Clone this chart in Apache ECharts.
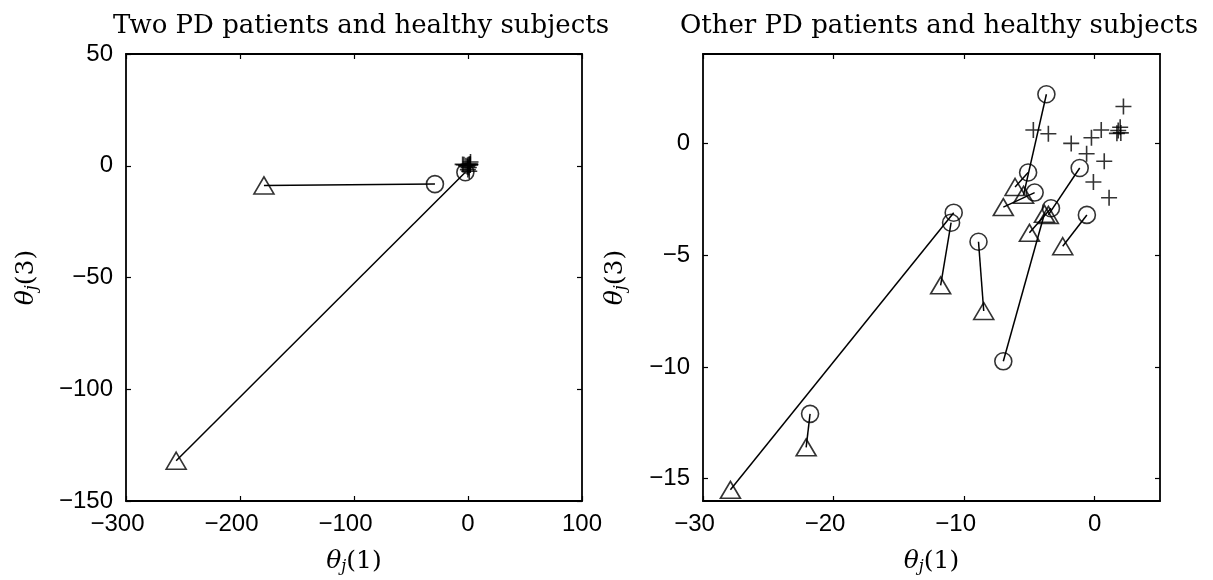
<!DOCTYPE html>
<html>
<head>
<meta charset="utf-8">
<script src="https://cdn.jsdelivr.net/npm/echarts@6/dist/echarts.min.js"></script>
<style>
  html, body { margin: 0; padding: 0; background: #fff; }
  #chart { width: 1213px; height: 580px; }
</style>
</head>
<body>
<div id="chart"></div>
<script>
// left panel: two PD patients (circle -> triangle pairs)
var leftCircles = [[-29, -8.2], [-2.3, -2.9]];
var leftTriangles = [[-179, -8.8], [-256, -132]];

// healthy subjects (plus markers), shown in both panels
var healthy = [
  [2.2, 1.65], [-4.7, 0.6], [-3.55, 0.43], [-1.8, 0.0], [-0.25, 0.25],
  [0.5, 0.6], [1.8, 0.58], [1.95, 0.72], [2.0, 0.47], [1.7, 0.45],
  [-0.62, -0.46], [0.73, -0.8], [-0.1, -1.73], [1.1, -2.43]
];

// right panel: other PD patients (circle i pairs with triangle i)
var rightCircles = [
  [-3.7, 2.2], [-5.1, -1.3], [-4.6, -2.2], [-1.15, -1.1], [-3.35, -2.9],
  [-0.6, -3.2], [-10.8, -3.1], [-11.0, -3.55], [-8.9, -4.4], [-7.0, -9.75],
  [-21.8, -12.1]
];
var rightTriangles = [
  [-5.45, -2.3], [-6.1, -1.95], [-7.0, -2.85], [-3.55, -3.2], [-5.0, -4.0],
  [-2.45, -4.6], [-27.9, -15.5], [-11.8, -6.35], [-8.5, -7.5], [-3.85, -3.15],
  [-22.1, -13.6]
];

var leftXTicks = [-300, -200, -100, 0, 100];
var leftYTicks = [-150, -100, -50, 0, 50];
var rightXTicks = [-30, -20, -10, 0];
var rightYTicks = [-15, -10, -5, 0];

var titles = ['Two PD patients and healthy subjects', 'Other PD patients and healthy subjects'];

var SERIF = '"DejaVu Serif", "Liberation Serif", serif';
var SANS = '"Liberation Sans", Arial, sans-serif';

var minus = function (v) { return String(v).replace('-', '\u2212'); };
// x labels: negative numbers sit a little left of their tick, as in the original
var xLabel = function (v) {
  return v < 0 ? '{v|' + minus(v) + '}{sp|}' : '{v|' + v + '}';
};

var nameRich = {
  t: { fontFamily: SERIF, fontStyle: 'italic', fontSize: 25, color: '#000' },
  s: { fontFamily: SERIF, fontStyle: 'italic', fontSize: 16, color: '#000', padding: [12, 0, 0, 0] },
  n: { fontFamily: SERIF, fontSize: 25, color: '#000' }
};

var axisLineStyle = { color: '#000', width: 1.8 };
var tickStyle = { color: '#000', width: 1.2 };

function xAxisMain(min, max, ticks, gridIndex, name) {
  return {
    type: 'value', gridIndex: gridIndex, position: 'bottom', min: min, max: max,
    axisLine: { show: true, onZero: false, lineStyle: axisLineStyle },
    axisTick: { show: true, inside: true, length: 5, customValues: ticks, lineStyle: tickStyle },
    axisLabel: {
      show: true, customValues: ticks, formatter: xLabel, margin: 11,
      rich: {
        v: { color: '#000', fontFamily: SANS, fontSize: 24 },
        sp: { width: 17 }
      }
    },
    splitLine: { show: false },
    name: name, nameLocation: 'middle', nameGap: 46,
    nameTextStyle: { rich: nameRich }
  };
}

function yAxisMain(min, max, ticks, gridIndex, name, nameGap) {
  return {
    type: 'value', gridIndex: gridIndex, position: 'left', min: min, max: max,
    axisLine: { show: true, onZero: false, lineStyle: axisLineStyle },
    axisTick: { show: true, inside: true, length: 5, customValues: ticks, lineStyle: tickStyle },
    axisLabel: { show: true, customValues: ticks, formatter: minus, color: '#000', fontFamily: SANS, fontSize: 24, margin: 13 },
    splitLine: { show: false },
    name: name, nameLocation: 'middle', nameGap: nameGap, nameRotate: 90,
    nameTextStyle: { rich: nameRich }
  };
}

function boxAxis(pos, min, max, ticks, gridIndex) {
  return {
    type: 'value', gridIndex: gridIndex, position: pos, min: min, max: max,
    axisLine: { show: true, onZero: false, lineStyle: axisLineStyle },
    axisTick: { show: true, inside: true, length: 5, customValues: ticks, lineStyle: tickStyle },
    axisLabel: { show: false },
    splitLine: { show: false }
  };
}

function pairLines(circles, triangles) {
  return circles.map(function (c, i) {
    return { coords: [c, triangles[i]] };
  });
}

var markerStyle = { color: 'rgba(0,0,0,0)', borderColor: '#000', borderWidth: 1.6 };
var plusPath = 'path://M5,0L5,10M0,5L10,5';

function panelSeries(idx, circles, triangles) {
  return [
    {
      type: 'lines', coordinateSystem: 'cartesian2d', xAxisIndex: idx, yAxisIndex: idx,
      data: pairLines(circles, triangles), silent: true,
      lineStyle: { color: '#000', width: 1.5, opacity: 1 }
    },
    {
      type: 'scatter', xAxisIndex: idx, yAxisIndex: idx, data: healthy,
      symbol: plusPath, symbolSize: 16, itemStyle: markerStyle, silent: true
    },
    {
      type: 'scatter', xAxisIndex: idx, yAxisIndex: idx, data: circles,
      symbol: 'circle', symbolSize: 17, itemStyle: markerStyle, silent: true
    },
    {
      type: 'scatter', xAxisIndex: idx, yAxisIndex: idx, data: triangles,
      symbol: 'triangle', symbolSize: [20, 17], itemStyle: markerStyle, silent: true
    }
  ];
}

var chart = echarts.init(document.getElementById('chart'), null, { renderer: 'canvas' });

chart.setOption({
  backgroundColor: '#fff',
  animation: false,
  title: [
    { text: titles[0], left: 356, top: 8, textAlign: 'center',
      textStyle: { fontFamily: SERIF, fontWeight: 'normal', fontSize: 26, color: '#000' } },
    { text: titles[1], left: 934, top: 8, textAlign: 'center',
      textStyle: { fontFamily: SERIF, fontWeight: 'normal', fontSize: 26, color: '#000' } }
  ],
  grid: [
    { left: 126, right: 631, top: 54, bottom: 79 },
    { left: 703, right: 53, top: 54, bottom: 79 }
  ],
  xAxis: [
    xAxisMain(-300, 100, leftXTicks, 0, '{t|θ}{s|j}{n|(1)}'),
    boxAxis('top', -300, 100, leftXTicks, 0),
    xAxisMain(-30, 5, rightXTicks, 1, '{t|θ}{s|j}{n|(1)}'),
    boxAxis('top', -30, 5, rightXTicks, 1)
  ],
  yAxis: [
    yAxisMain(-150, 50, leftYTicks, 0, '{t|θ}{s|j}{n|(3)}', 86),
    boxAxis('right', -150, 50, leftYTicks, 0),
    yAxisMain(-16, 4, rightYTicks, 1, '{t|θ}{s|j}{n|(3)}', 74),
    boxAxis('right', -16, 4, rightYTicks, 1)
  ],
  series: panelSeries(0, leftCircles, leftTriangles).concat(panelSeries(2, rightCircles, rightTriangles))
});
</script>
</body>
</html>
